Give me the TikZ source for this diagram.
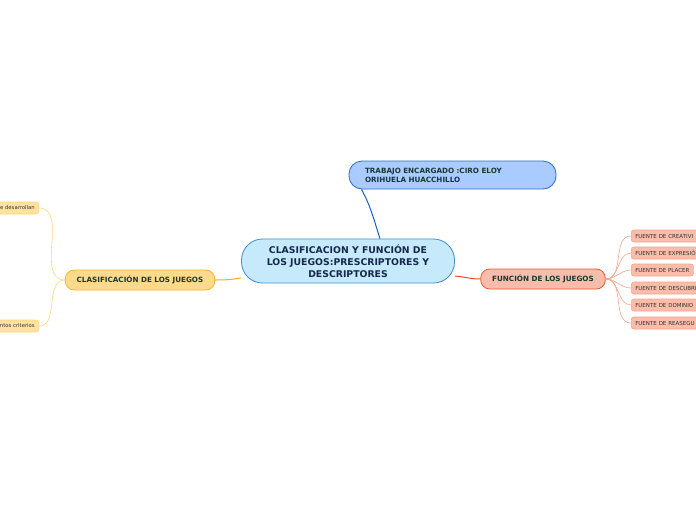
\documentclass[tikz,border=0pt]{standalone}
\usepackage{fontspec}
\setmainfont{DejaVu Sans}
\usepackage{tikz}
\definecolor{cenfill}{HTML}{C6E9FB}
\definecolor{cenline}{HTML}{3C8FD8}
\definecolor{topfill}{HTML}{A9CBFF}
\definecolor{topline}{HTML}{2C6AD6}
\definecolor{topwire}{HTML}{1463C9}
\definecolor{navy}{HTML}{14284A}
\definecolor{deepgreen}{HTML}{163A30}
\definecolor{yelfill}{HTML}{FFD98C}
\definecolor{yelline}{HTML}{F7B52A}
\definecolor{yelwire}{HTML}{F6AE0E}
\definecolor{leafyfill}{HTML}{FFE29E}
\definecolor{leafyline}{HTML}{FFD678}
\definecolor{redfill}{HTML}{F9BCAA}
\definecolor{redline}{HTML}{E8582F}
\definecolor{redwire}{HTML}{EE4D22}
\definecolor{leafrfill}{HTML}{F9BDAA}
\definecolor{leafrline}{HTML}{F6A58C}

\begin{document}
\begin{tikzpicture}[x=1pt,y=-1pt,
  topic/.style={draw=cenline,fill=cenfill,rounded corners=21pt,line width=0.8pt,
    minimum width=213pt,minimum height=44pt,align=center,text=navy,
    font=\fontsize{9.3}{12}\selectfont\bfseries},
  note/.style={draw=topline,fill=topfill,rounded corners=13pt,line width=0.8pt,
    text width=175pt,inner xsep=16pt,minimum height=28pt,align=left,text=deepgreen,
    font=\fontsize{7.2}{9}\selectfont\bfseries},
  branch/.style={rounded corners=9pt,line width=0.8pt,minimum height=20pt,
    inner xsep=11.5pt,text=deepgreen,font=\fontsize{7.2}{8}\selectfont\bfseries},
  leaf/.style={rounded corners=2.5pt,line width=0.6pt,minimum height=12pt,
    inner xsep=4pt,inner ysep=1pt,text=black!80,font=\fontsize{5.5}{6}\selectfont},
  ywire/.style={leafyline,line width=0.6pt},
  rwire/.style={leafrline,line width=0.6pt}]
\useasboundingbox (0,0) rectangle (696,520);
\clip (0,0) rectangle (696,520);
\fill[white] (0,0) rectangle (696,520);
% central topic
\node[topic] (cen) at (348,261) {CLASIFICACION Y FUNCIÓN DE\\LOS JUEGOS:PRESCRIPTORES Y\\DESCRIPTORES};
% author note
\node[note] (aut) at (452.5,175) {TRABAJO ENCARGADO :CIRO ELOY\\ORIHUELA HUACCHILLO};
% main branches
\node[branch,draw=yelline,fill=yelfill] (cla) at (140,280) {CLASIFICACIÓN DE LOS JUEGOS};
\node[branch,draw=redline,fill=redfill] (fun) at (543,279) {FUNCIÓN DE LOS JUEGOS};
% left leaves (cut by the edge)
\node[leaf,draw=leafyline,fill=leafyfill,anchor=east,text width=90pt,align=right,
  font=\fontsize{5.3}{6}\selectfont] (des) at (39,208) {e desarrollan};
\node[leaf,draw=leafyline,fill=leafyfill,anchor=east,text width=90pt,align=right,
  font=\fontsize{5.3}{6}\selectfont] (cri) at (39,326) {ntos criterios};
% right leaves
\node[leaf,draw=leafrline,fill=leafrfill,anchor=west,text width=90pt,align=left] (f1) at (631,236) {FUENTE DE CREATIVI};
\node[leaf,draw=leafrline,fill=leafrfill,anchor=west,text width=90pt,align=left] (f2) at (631,253) {FUENTE DE EXPRESIÓ};
\node[leaf,draw=leafrline,fill=leafrfill,anchor=west] (f3) at (631,270) {FUENTE DE PLACER};
\node[leaf,draw=leafrline,fill=leafrfill,anchor=west,text width=90pt,align=left] (f4) at (631,288) {FUENTE DE DESCUBRI};
\node[leaf,draw=leafrline,fill=leafrfill,anchor=west,text width=90pt,align=left] (f5) at (631,305) {FUENTE DE DOMINIO};
\node[leaf,draw=leafrline,fill=leafrfill,anchor=west,text width=90pt,align=left] (f6) at (631,323) {FUENTE DE REASEGU};
% connectors
\draw[topwire,line width=1pt] (cen.35) to[out=108,in=-62] (aut.189);
\draw[yelwire,line width=1pt] (cen.189) to[out=190,in=0] (cla.east);
\draw[redwire,line width=1pt] (cen.-8) to[out=-5,in=180] (fun.west);
\foreach \lf in {des,cri}
  \draw[ywire] (cla.west) to[out=180,in=0] (\lf.east);
\foreach \lf in {f1,f2,f3,f4,f5,f6}
  \draw[rwire] (fun.east) to[out=0,in=180] (\lf.west);
\end{tikzpicture}
\end{document}
